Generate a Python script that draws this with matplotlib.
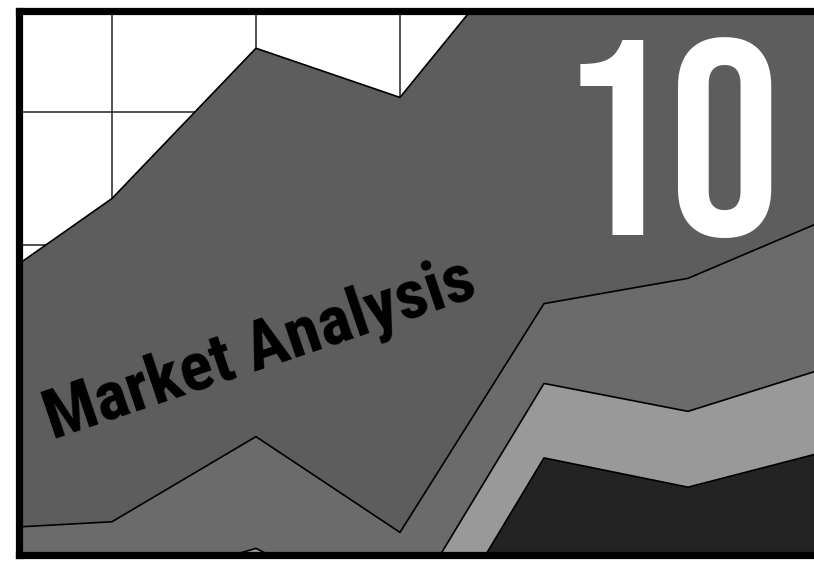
"""
Chapter 10 cover art: overlapping area chart with title text.
"""

import matplotlib
matplotlib.use('Agg')
import matplotlib.pyplot as plt

# Data for the layered areas

periods = [0, 1, 2, 3, 4, 5, 6]
series_a = [159, 235, 348, 311, 444, 470, 490]
series_b = [-14, -8, 56, -16, 156, 175, 221]
series_c = [-70, -60, -28, -83, 96, 75, 109]
series_d = [-160, -150, -140, -140, 40, 18, 46]

layer_colors = ['#5d5d5d', '#6b6b6b', '#999999', '#232323']
grid_y = [100, 200, 300]
grid_x = [1, 2, 3]

chapter_num = '10'
chapter_title = 'Market Analysis'

# Figure and axes

fig = plt.figure(figsize=(8.14, 5.63), dpi=100)
ax = fig.add_axes([18.5 / 814, 8 / 563, (830 - 18.5) / 814, (555 - 11) / 563])

ax.set_xlim(0.351, 5.986)
ax.set_ylim(-33, 376)

for gx in grid_x:
    ax.axvline(gx, color='#222222', linewidth=1.1, zorder=0)
for gy in grid_y:
    ax.axhline(gy, color='#222222', linewidth=1.1, zorder=0)

base = -300
for i, (vals, col) in enumerate(zip([series_a, series_b, series_c, series_d], layer_colors)):
    ax.fill_between(periods, vals, base, facecolor=col, edgecolor='none', zorder=1 + i)
    ax.plot(periods, vals, color='black', linewidth=1.2, zorder=1 + i)

ax.set_xticks([])
ax.set_yticks([])
for side in ['left', 'top', 'bottom']:
    ax.spines[side].set_linewidth(5.2)
    ax.spines[side].set_color('black')
    ax.spines[side].set_zorder(10)
ax.spines['right'].set_visible(False)

# Titles

fig.text(669 / 814, (563 - 235) / 563, chapter_num, color='white',
         fontsize=201, family=['Bebas Neue', 'DejaVu Sans'],
         ha='center', va='baseline', zorder=20)

fig.text(52 / 814, (563 - 439) / 563, chapter_title, color='black',
         fontsize=50, fontweight='bold', family=['Roboto Condensed', 'DejaVu Sans'],
         rotation=18.6, rotation_mode='anchor', ha='left', va='baseline', zorder=20)

fig.savefig('out.png', dpi=100)
plt.close(fig)
